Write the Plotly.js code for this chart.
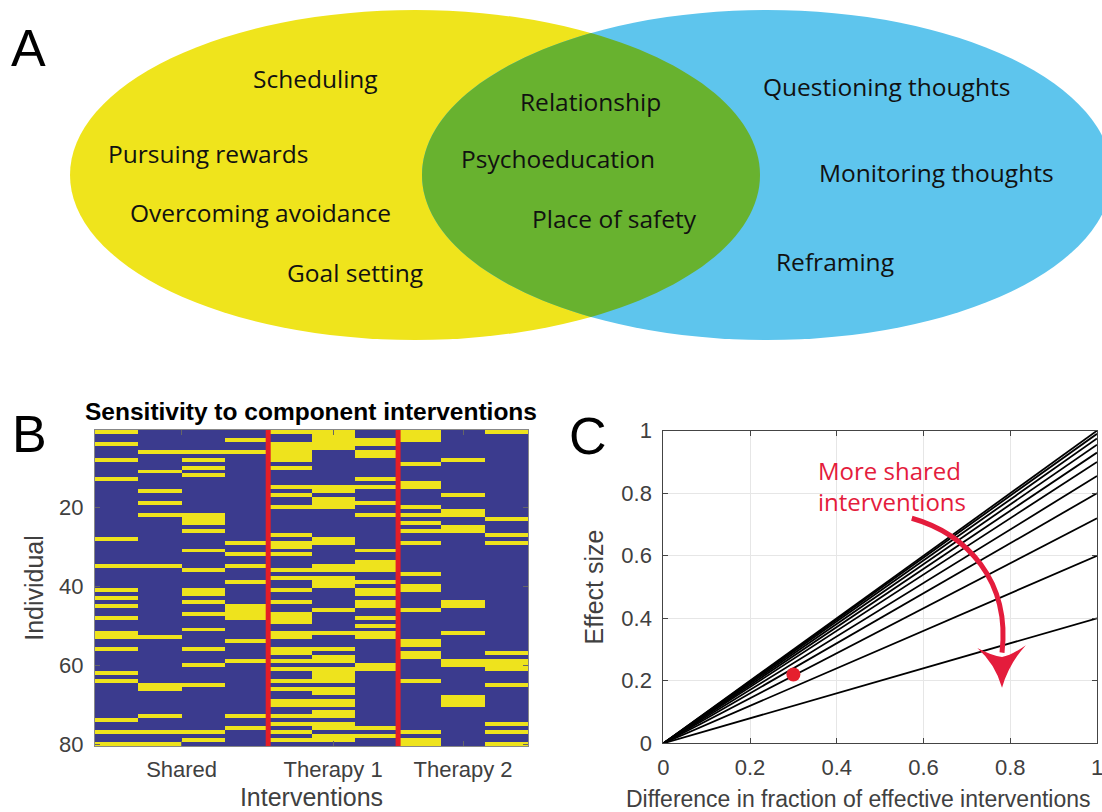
<!DOCTYPE html>
<html>
<head>
<meta charset="utf-8">
<script src="https://cdn.plot.ly/plotly-3.0.1.min.js"></script>
<style>html,body{margin:0;padding:0;background:#fff;}#chart{width:1102px;height:812px;}</style>
</head>
<body>
<div id="chart"></div>
<script>
// ---------- Panel A: Venn diagram labels ----------
const leftOnly = ["Scheduling", "Pursuing rewards", "Overcoming avoidance", "Goal setting"];
const shared = ["Relationship", "Psychoeducation", "Place of safety"];
const rightOnly = ["Questioning thoughts", "Monitoring thoughts", "Reframing"];

// ---------- Panel B: binary sensitivity matrix (rows with sensitivity = 1, per column) ----------
const interventionLabels = ["Shared", "Therapy 1", "Therapy 2"];
const interventionTickPos = [2.5, 6, 9];
const nIndividuals = 80;
const col1Rows = [1,4,8,13,28,35,41,43,45,48,52,53,56,62,64,74,77,80];
const col2Rows = [6,11,16,19,22,35,53,65,66,73,77,80];
const col3Rows = [6,8,10,12,22,23,24,26,31,36,41,42,44,47,51,56,60,65,77,79];
const col4Rows = [3,6,29,32,35,39,45,46,47,48,54,59,73,76];
const col5Rows = [1,4,5,6,7,8,10,15,17,20,27,29,30,32,36,38,41,44,47,48,49,52,53,56,57,59,61,64,66,69,70,73,75,77,79];
const col6Rows = [1,2,3,4,5,15,16,18,19,20,28,29,35,36,38,39,40,46,52,56,58,59,61,62,63,64,66,67,69,70,72,73,75,76,78,79];
const col7Rows = [3,4,6,7,13,15,19,22,31,34,35,36,39,41,42,44,45,48,50,52,53,60,61,76,78];
const col8Rows = [1,2,3,9,14,15,20,22,24,26,29,37,40,41,46,54,55,57,58,64,77,79,80];
const col9Rows = [8,17,21,22,25,26,44,45,52,59,60,68,69,70];
const col10Rows = [1,23,27,29,57,59,60,61,65,75,77,80];
const groupBoundaries = [4.5, 7.5];

// ---------- Panel C: effect size lines ----------
const diffFraction = [0, 1];
const lineSlopes = [1.0, 0.99, 0.975, 0.955, 0.93, 0.9, 0.855, 0.8, 0.72, 0.6, 0.4];
const pointX = [0.3];
const pointY = [0.22];

// ---------- helpers ----------
const W = 1102, H = 812;
const fx = p => p / W;
const fy = p => 1 - p / H;

const columns = [col1Rows,col2Rows,col3Rows,col4Rows,col5Rows,col6Rows,col7Rows,col8Rows,col9Rows,col10Rows];
const xCols = columns.map((_, i) => i + 1);
const yRows = Array.from({length: nIndividuals}, (_, i) => i + 1);
const z = yRows.map(r => columns.map(c => c.includes(r) ? 1 : 0));

const BLUE = "#3b3b8e", YEL = "#eee31d", RED = "#e41e26";
const traces = [];
traces.push({
  type: "heatmap", x: xCols, y: yRows, z: z, xaxis: "x", yaxis: "y",
  colorscale: [[0, BLUE], [1, YEL]], zmin: 0, zmax: 1, showscale: false,
  hoverinfo: "skip"
});
lineSlopes.forEach(s => {
  traces.push({
    type: "scatter", mode: "lines", x: diffFraction, y: diffFraction.map(d => d * s),
    xaxis: "x2", yaxis: "y2", line: {color: "#000", width: 1.8}, hoverinfo: "skip", showlegend: false
  });
});
traces.push({
  type: "scatter", mode: "markers", x: pointX, y: pointY, xaxis: "x2", yaxis: "y2",
  marker: {color: "#e5202e", size: 14}, hoverinfo: "skip", showlegend: false
});
traces.push({type: "scatter", x: [], y: [], xaxis: "x3", yaxis: "y3", showlegend: false, hoverinfo: "skip"});

// Venn ellipses (panel A axis: 1 unit = 1 px)
const yC = {cx: 415, cy: 175, rx: 345, ry: 165};
const bC = {cx: 767, cy: 175, rx: 345, ry: 165};
const xi = (yC.cx + bC.cx) / 2;
const th0 = Math.acos((xi - yC.cx) / yC.rx);
let lens = [];
const N = 60;
for (let i = 0; i <= N; i++) {
  const t = -th0 + 2 * th0 * i / N;
  lens.push([yC.cx + yC.rx * Math.cos(t), yC.cy + yC.ry * Math.sin(t)]);
}
for (let i = 0; i <= N; i++) {
  const t = Math.PI - th0 + 2 * th0 * i / N;
  lens.push([bC.cx + bC.rx * Math.cos(t), bC.cy - bC.ry * Math.sin(t)]);
}
const lensPath = "M " + lens.map(p => p[0].toFixed(1) + "," + p[1].toFixed(1)).join(" L ") + " Z";

const shapes = [
  {type: "circle", xref: "x3", yref: "y3", x0: yC.cx - yC.rx, x1: yC.cx + yC.rx, y0: yC.cy - yC.ry, y1: yC.cy + yC.ry,
   fillcolor: "#efe41c", line: {width: 0}, layer: "below"},
  {type: "circle", xref: "x3", yref: "y3", x0: bC.cx - bC.rx, x1: bC.cx + bC.rx, y0: bC.cy - bC.ry, y1: bC.cy + bC.ry,
   fillcolor: "#5ec5ed", line: {width: 0}, layer: "below"},
  {type: "path", xref: "x3", yref: "y3", path: lensPath, fillcolor: "#68b22f", line: {width: 0}, layer: "below"}
];
groupBoundaries.forEach(b => shapes.push({
  type: "line", xref: "x", yref: "y", x0: b, x1: b, y0: 0.5, y1: nIndividuals + 0.5,
  line: {color: RED, width: 5}
}));
// curved arrow in panel C
shapes.push({type: "path", xref: "x2", yref: "y2",
  path: "M 0.573,0.72 C 0.70,0.67 0.80,0.52 0.781,0.29",
  line: {color: "#e41c3c", width: 5}});
shapes.push({type: "path", xref: "x2", yref: "y2",
  path: "M 0.724,0.305 Q 0.765,0.255 0.781,0.178 Q 0.797,0.255 0.836,0.314 Q 0.803,0.282 0.781,0.276 Q 0.758,0.280 0.724,0.305 Z",
  fillcolor: "#e41c3c", line: {width: 0}});

const vennFont = {family: "Open Sans, sans-serif", size: 24.5, color: "#111"};
const vennPos = [
  [leftOnly[0], 315, 78], [leftOnly[1], 208, 153], [leftOnly[2], 260, 212], [leftOnly[3], 355, 272],
  [shared[0], 590, 101], [shared[1], 558, 158], [shared[2], 614, 218],
  [rightOnly[0], 886, 86], [rightOnly[1], 936, 172], [rightOnly[2], 835, 261]
];
const annotations = vennPos.map(v => ({
  text: v[0], xref: "x3", yref: "y3", x: v[1], y: v[2], showarrow: false,
  xanchor: "center", yanchor: "middle", font: vennFont
}));
const letterFont = {family: "Liberation Sans, Arial, sans-serif", size: 52, color: "#000"};
[["A", 28, 48], ["B", 29, 434], ["C", 588, 436]].forEach(l => annotations.push({
  text: l[0], xref: "paper", yref: "paper", x: fx(l[1]), y: fy(l[2]), showarrow: false,
  xanchor: "center", yanchor: "middle", font: letterFont
}));
annotations.push({
  text: "More shared<br>interventions", xref: "paper", yref: "paper", x: fx(816), y: fy(486),
  showarrow: false, xanchor: "left", yanchor: "middle", align: "left",
  font: {family: "Open Sans, sans-serif", size: 24, color: "#e41c3c"}
});

const tickFont = {family: "Liberation Sans, Arial, sans-serif", size: 22, color: "#404040"};
const titleFont = {family: "Liberation Sans, Arial, sans-serif", size: 25, color: "#404040"};

// x-axis title of panel C, left-aligned where the reference starts it so it stays inside the page
annotations.push({
  text: "Difference in fraction of effective interventions", xref: "paper", yref: "paper",
  x: fx(624), y: fy(799), xanchor: "left", yanchor: "middle", showarrow: false,
  font: {...titleFont, size: 23}
});

const layout = {
  width: W, height: H, margin: {l: 0, r: 0, t: 0, b: 0},
  paper_bgcolor: "#fff", plot_bgcolor: "rgba(0,0,0,0)", showlegend: false,
  font: {family: "Liberation Sans, Arial, sans-serif"},
  title: {text: "<b>Sensitivity to component interventions</b>", x: fx(311), y: fy(411),
          xanchor: "center", yanchor: "middle", xref: "paper", yref: "paper",
          font: {family: "Liberation Sans, Arial, sans-serif", size: 24.5, color: "#000"}},
  xaxis: {domain: [fx(95), fx(528)], anchor: "y", range: [0.5, 10.5],
          tickvals: interventionTickPos, ticktext: interventionLabels,
          ticks: "inside", ticklen: 5, tickcolor: "#666", showline: true, mirror: "ticks", linecolor: "#888",
          showgrid: false, zeroline: false, tickfont: tickFont, ticklabelstandoff: 4,
          title: {text: "Interventions", font: titleFont, standoff: 7}},
  yaxis: {domain: [fy(746), fy(430)], anchor: "x", range: [nIndividuals + 0.5, 0.5],
          tickvals: [20, 40, 60, 80], ticks: "inside", ticklen: 5, tickcolor: "#666",
          showline: true, mirror: "ticks", linecolor: "#888", showgrid: false, zeroline: false,
          tickfont: tickFont, ticklabelstandoff: 6,
          title: {text: "Individual", font: titleFont, standoff: 8}},
  xaxis2: {domain: [fx(663.3), fx(1097)], anchor: "y2", range: [0, 1], dtick: 0.2,
           ticks: "inside", ticklen: 5, tickcolor: "#444", showline: true, mirror: "ticks", linecolor: "#444",
           showgrid: true, gridcolor: "#e6e6e6", zeroline: false, tickfont: tickFont,
           ticklabelstandoff: 4, ticklabeloverflow: "allow"},
  yaxis2: {domain: [fy(743.3), fy(430.7)], anchor: "x2", range: [0, 1], dtick: 0.2,
           ticks: "inside", ticklen: 5, tickcolor: "#444", showline: true, mirror: "ticks", linecolor: "#444",
           showgrid: true, gridcolor: "#e6e6e6", zeroline: false, tickfont: tickFont,
           ticklabelstandoff: 6, ticklabeloverflow: "allow",
           title: {text: "Effect size", font: titleFont, standoff: 10}},
  xaxis3: {domain: [0, 1], anchor: "y3", range: [0, W], visible: false, fixedrange: true},
  yaxis3: {domain: [fy(360), 1], anchor: "x3", range: [360, 0], visible: false, fixedrange: true},
  shapes: shapes, annotations: annotations
};

Plotly.newPlot("chart", traces, layout, {displayModeBar: false, staticPlot: true});
</script>
</body>
</html>
